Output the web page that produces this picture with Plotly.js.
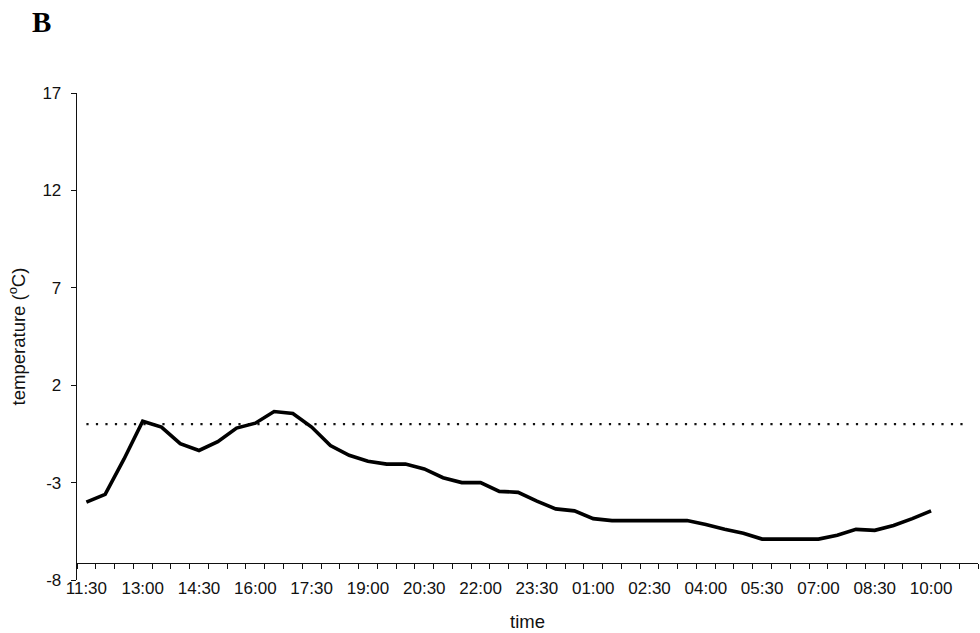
<!DOCTYPE html>
<html>
<head>
<meta charset="utf-8">
<script src="https://cdn.plot.ly/plotly-3.0.1.min.js"></script>
<style>html,body{margin:0;padding:0;background:#fff;}#chart{width:980px;height:633px;}</style>
</head>
<body>
<div id="chart"></div>
<script>
const times = ["11:30","12:00","12:30","13:00","13:30","14:00","14:30","15:00","15:30","16:00",
  "16:30","17:00","17:30","18:00","18:30","19:00","19:30","20:00","20:30","21:00",
  "21:30","22:00","22:30","23:00","23:30","00:00","00:30","01:00","01:30","02:00",
  "02:30","03:00","03:30","04:00","04:30","05:00","05:30","06:00","06:30","07:00",
  "07:30","08:00","08:30","09:00","09:30","10:00","10:30","11:00"];
const temperature = [-4.0,-3.6,-1.8,0.15,-0.15,-1.0,-1.35,-0.9,-0.2,0.05,
  0.65,0.55,-0.15,-1.1,-1.6,-1.9,-2.05,-2.05,-2.3,-2.75,
  -3.0,-3.0,-3.45,-3.5,-3.95,-4.35,-4.45,-4.85,-4.95,-4.95,
  -4.95,-4.95,-4.95,-5.15,-5.4,-5.6,-5.9,-5.9,-5.9,-5.9,
  -5.7,-5.4,-5.45,-5.2,-4.85,-4.45];
const freezing = times.map(() => 0);
const yTicks = [-8,-3,2,7,12,17];
const labelEvery = 3;

const idx = times.map((t,i) => i);
const majorVals = idx.filter(i => i % labelEvery === 0);
const majorText = majorVals.map(i => times[i]);
const boundaryVals = times.map((t,i) => i - 0.5).concat([times.length - 0.5]);

const font = 'Liberation Sans, Arial, sans-serif';

const traces = [
  {x: idx, y: freezing, mode: 'lines', line: {color: '#111', width: 2.3, dash: '2.2px,7.3px'}, hoverinfo: 'skip'},
  {x: idx.slice(0, temperature.length), y: temperature, mode: 'lines', line: {color: '#000', width: 3.6}}
];

const layout = {
  width: 980, height: 633,
  margin: {l: 77, r: 2, t: 93, b: 53},
  paper_bgcolor: '#fff', plot_bgcolor: '#fff',
  showlegend: false,
  font: {family: font, color: '#111', size: 17},
  xaxis: {
    range: [-0.5, times.length - 0.5],
    anchor: 'free', position: 0.035,
    showline: true, linecolor: '#111', linewidth: 1.3,
    showgrid: false, zeroline: false,
    tickmode: 'array', tickvals: majorVals, ticktext: majorText,
    ticks: 'outside', ticklen: 9, tickcolor: 'rgba(0,0,0,0)',
    tickfont: {family: font, size: 17, color: '#111'},
    minor: {tickmode: 'array', tickvals: boundaryVals, ticks: 'outside', ticklen: 5, tickcolor: '#111', tickwidth: 1, showgrid: false},
    title: {text: 'time', font: {family: font, size: 18.5, color: '#111'}, standoff: 18}
  },
  yaxis: {
    range: [-8, 17],
    showline: true, linecolor: '#111', linewidth: 1.3,
    showgrid: false, zeroline: false,
    tickmode: 'array', tickvals: yTicks, ticktext: yTicks.map(String),
    ticks: 'outside', ticklen: 5, tickcolor: '#111', ticklabelstandoff: 6,
    tickfont: {family: font, size: 17, color: '#111'},
    title: {text: 'temperature (<sup>o</sup>C)', font: {family: font, size: 18.5, color: '#111'}, standoff: 12}
  },
  annotations: [
    {text: '<b>B</b>', xref: 'paper', yref: 'paper', x: -0.039, y: 1.146, xanchor: 'center', yanchor: 'middle',
     showarrow: false, font: {family: 'Liberation Serif, Times New Roman, serif', size: 29, color: '#000'}}
  ]
};

Plotly.newPlot('chart', traces, layout, {displayModeBar: false, staticPlot: true});
</script>
</body>
</html>
